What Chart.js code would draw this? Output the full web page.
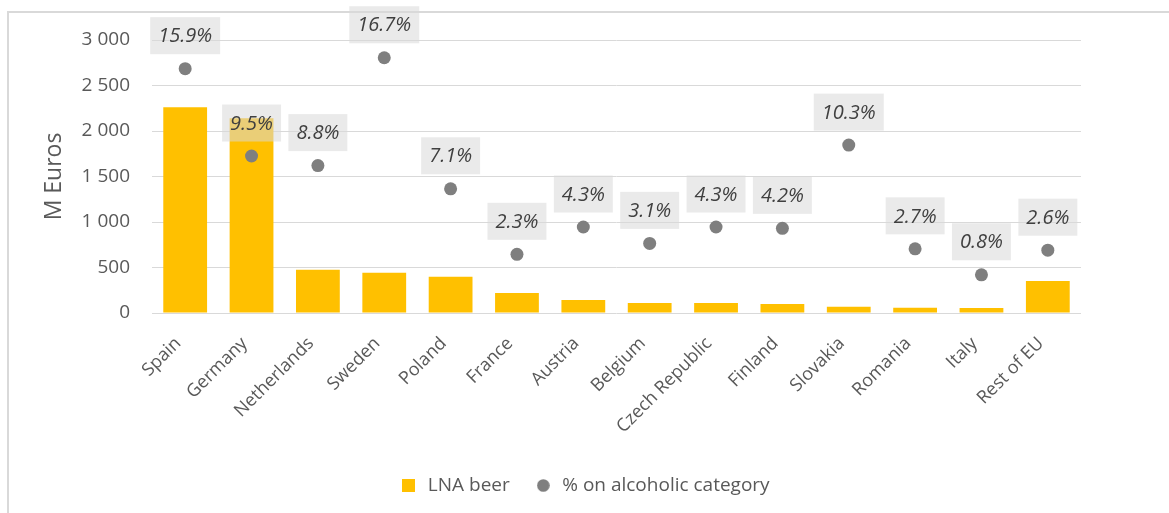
<!DOCTYPE html>
<html>
<head>
<meta charset="utf-8">
<script src="https://cdn.jsdelivr.net/npm/chart.js@4/dist/chart.umd.min.js"></script>
<style>
  html, body { margin: 0; padding: 0; background: #fff; }
  #wrap { position: relative; width: 1169px; height: 513px; }
</style>
</head>
<body>
<div id="wrap"><canvas id="myChart" width="1169" height="513"></canvas></div>
<script>
var countries = ['Spain', 'Germany', 'Netherlands', 'Sweden', 'Poland', 'France', 'Austria',
  'Belgium', 'Czech Republic', 'Finland', 'Slovakia', 'Romania', 'Italy', 'Rest of EU'];
var lnaBeer = [2260, 2140, 474, 441, 397, 221, 143, 110, 110, 99, 68, 58, 55, 352];
var shareAlcoholic = [15.9, 9.5, 8.8, 16.7, 7.1, 2.3, 4.3, 3.1, 4.3, 4.2, 10.3, 2.7, 0.8, 2.6];
var yTicks = [0, 500, 1000, 1500, 2000, 2500, 3000];

var grey = '#595959';
var font = "'Open Sans', sans-serif";

// small legend markers
function marker(kind, color) {
  var c = document.createElement('canvas');
  c.width = 13; c.height = 13;
  var g = c.getContext('2d');
  g.fillStyle = color;
  if (kind === 'rect') g.fillRect(0, 0, 13, 13);
  else { g.beginPath(); g.arc(6.5, 6.5, 6.3, 0, Math.PI * 2); g.fill(); }
  return c;
}
var legendMarks = [marker('rect', '#FFC000'), marker('circle', '#7F7F7F')];

// frame of the chart object (left and top edges only are visible)
var framePlugin = {
  id: 'frame',
  beforeDraw: function (chart) {
    var c = chart.ctx;
    c.save();
    c.strokeStyle = '#D9D9D9';
    c.lineWidth = 2;
    c.beginPath();
    c.moveTo(8, 513);
    c.lineTo(8, 12);
    c.lineTo(1169, 12);
    c.stroke();
    c.restore();
  }
};

// percentage labels in grey boxes above the points
var pctLabels = {
  id: 'pctLabels',
  afterDatasetsDraw: function (chart) {
    var c = chart.ctx;
    var meta = chart.getDatasetMeta(1);
    c.save();
    c.font = 'italic 20px ' + font;
    c.textAlign = 'center';
    c.textBaseline = 'middle';
    meta.data.forEach(function (pt, i) {
      var txt = shareAlcoholic[i].toFixed(1) + '%';
      var w = c.measureText(txt).width + 16;
      var cy = pt.y - 33;
      c.fillStyle = 'rgba(217,217,217,0.55)';
      c.fillRect(pt.x - w / 2, cy - 18.5, w, 37);
      c.fillStyle = '#404040';
      c.fillText(txt, pt.x, cy + 1);
    });
    c.restore();
  }
};

var ctx = document.getElementById('myChart').getContext('2d');
var chart = new Chart(ctx, {
  type: 'bar',
  data: {
    labels: countries,
    datasets: [{
      label: 'LNA beer',
      data: lnaBeer,
      backgroundColor: '#FFC000',
      barPercentage: 0.66,
      categoryPercentage: 1,
      yAxisID: 'y',
      order: 2
    }, {
      type: 'line',
      label: '% on alcoholic category',
      data: shareAlcoholic,
      showLine: false,
      pointRadius: 6.5,
      pointBackgroundColor: '#7F7F7F',
      pointBorderWidth: 0,
      backgroundColor: '#7F7F7F',
      borderColor: '#7F7F7F',
      yAxisID: 'y2',
      order: 1
    }]
  },
  options: {
    responsive: false,
    animation: false,
    events: [],
    layout: { padding: { left: 0, right: 0, top: 40, bottom: 8 } },
    scales: {
      x: {
        grid: { display: false, drawTicks: false },
        border: { display: false },
        ticks: {
          color: grey,
          font: { family: font, size: 18 },
          minRotation: 45,
          maxRotation: 45,
          padding: 20,
          labelOffset: -7,
          autoSkip: false
        },
        afterFit: function (s) { s.height = 139; }
      },
      y: {
        min: 0,
        max: 3000,
        afterBuildTicks: function (s) { s.ticks = yTicks.map(function (v) { return { value: v }; }); },
        grid: { color: '#D9D9D9', lineWidth: 1, drawTicks: false },
        border: { display: false },
        ticks: {
          color: grey,
          font: { family: font, size: 19 },
          padding: 22,
          callback: function (v) { return String(v).replace(/\B(?=(\d{3})+(?!\d))/g, ' '); }
        },
        title: {
          display: true,
          text: 'M Euros',
          color: grey,
          font: { family: font, size: 23 },
          padding: { top: 41, bottom: 0 }
        },
        afterFit: function (s) { s.width = 152; }
      },
      y2: {
        position: 'right',
        min: -2,
        max: 18,
        grid: { display: false, drawTicks: false },
        border: { display: false },
        ticks: { display: false },
        afterFit: function (s) { s.width = 88; }
      }
    },
    plugins: {
      title: { display: false },
      tooltip: { enabled: false },
      legend: {
        position: 'bottom',
        labels: {
          color: grey,
          font: { family: font, size: 19 },
          usePointStyle: true,
          boxHeight: 13,
          padding: 24,
          generateLabels: function (ch) {
            var items = Chart.defaults.plugins.legend.labels.generateLabels(ch);
            items.sort(function (a, b) { return a.datasetIndex - b.datasetIndex; });
            items.forEach(function (it) { it.pointStyle = legendMarks[it.datasetIndex]; });
            return items;
          }
        }
      }
    }
  },
  plugins: [framePlugin, pctLabels]
});
</script>
</body>
</html>
